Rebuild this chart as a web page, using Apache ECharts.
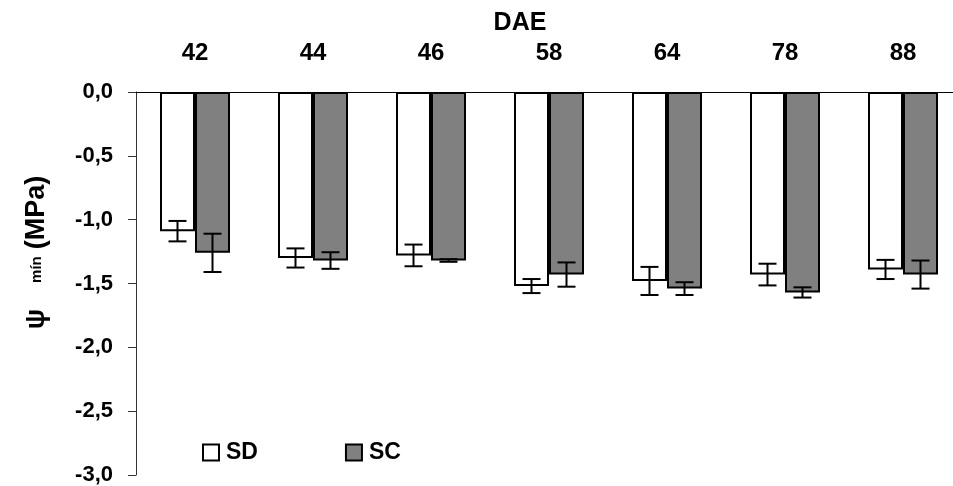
<!DOCTYPE html>
<html>
<head>
<meta charset="utf-8">
<script src="https://cdn.jsdelivr.net/npm/echarts@6/dist/echarts.min.js"></script>
<style>
  html, body { margin: 0; padding: 0; background: #fff; overflow: hidden; }
  #chart { width: 962px; height: 486px; }
</style>
</head>
<body>
<div id="chart"></div>
<script>
const days = ["42", "44", "46", "58", "64", "78", "88"];
const sdValues = [-1.09, -1.30, -1.28, -1.52, -1.48, -1.43, -1.39];
const sdErrors = [0.08, 0.075, 0.085, 0.055, 0.11, 0.085, 0.075];
const scValues = [-1.26, -1.32, -1.32, -1.43, -1.54, -1.57, -1.43];
const scErrors = [0.15, 0.065, 0.01, 0.095, 0.05, 0.04, 0.11];
const yTicks = [0, -0.5, -1.0, -1.5, -2.0, -2.5, -3.0];

const FONT = "'Liberation Sans', Arial, sans-serif";
const BAR_W = 35;

// the plot runs a few pixels past the right edge of the picture, so the
// chart div is wider than the window and the extra part is cut off
function errorBars(offset) {
  return function (params, api) {
    const i = api.value(0);
    const v = api.value(1);
    const e = api.value(2);
    const hi = api.coord([i, v + e]);
    const lo = api.coord([i, v - e]);
    const x = hi[0] + offset;
    const cap = 9;
    const style = { stroke: "#000", lineWidth: 2 };
    return {
      type: "group",
      children: [
        { type: "line", shape: { x1: x, y1: hi[1], x2: x, y2: lo[1] }, style },
        { type: "line", shape: { x1: x - cap, y1: hi[1], x2: x + cap, y2: hi[1] }, style },
        { type: "line", shape: { x1: x - cap, y1: lo[1], x2: x + cap, y2: lo[1] }, style },
      ],
    };
  };
}

const chart = echarts.init(document.getElementById("chart"), null, { renderer: "canvas" });
chart.setOption({
  animation: false,
  textStyle: { fontFamily: FONT },
  grid: { left: 136, right: 0, top: 92, bottom: 11, containLabel: false },
  legend: {
    data: ["SD", "SC"],
    left: 197,
    top: 436,
    icon: "rect",
    itemWidth: 16,
    itemHeight: 16,
    itemGap: 87,
    textStyle: { fontFamily: FONT, fontWeight: "bold", fontSize: 23, color: "#000", padding: [0, 0, 0, 2] },
  },
  xAxis: {
    type: "category",
    position: "top",
    data: days,
    name: "DAE",
    nameLocation: "middle",
    nameGap: 48,
    nameTextStyle: { fontFamily: FONT, fontWeight: "bold", fontSize: 25, color: "#000", padding: [0, 58, 0, 0] },
    axisLine: { onZero: false, lineStyle: { color: "#000", width: 1 } },
    axisTick: { inside: true, length: 7, lineStyle: { color: "#000", width: 1 } },
    axisLabel: { margin: 27, fontFamily: FONT, fontWeight: "bold", fontSize: 24, color: "#000" },
  },
  yAxis: {
    type: "value",
    min: -3,
    max: 0,
    interval: 0.5,
    name: "{psi|ψ}{sub|mín}{main|(MPa)}",
    nameLocation: "middle",
    nameGap: 86,
    nameTextStyle: {
      padding: [0, 0, 0, 62],
      rich: {
        psi: { fontFamily: FONT, fontWeight: "bold", fontSize: 27, color: "#000", padding: [0, 26, 0, 0] },
        sub: { fontFamily: FONT, fontWeight: "bold", fontSize: 15, color: "#000", padding: [0, 7, 0, 0] },
        main: { fontFamily: FONT, fontWeight: "bold", fontSize: 27, color: "#000" },
      },
    },
    axisLine: { show: true, lineStyle: { color: "#333", width: 1 } },
    axisTick: { show: true, length: 8, lineStyle: { color: "#333", width: 1 } },
    splitLine: { show: false },
    axisLabel: {
      margin: 23,
      fontFamily: FONT,
      fontWeight: "bold",
      fontSize: 22,
      color: "#000",
      formatter: (v) => {
        const t = yTicks.find((k) => Math.abs(k - v) < 1e-6);
        return (t === undefined ? v : t).toFixed(1).replace(".", ",");
      },
    },
  },
  series: [
    {
      name: "SD",
      type: "bar",
      data: sdValues,
      barWidth: BAR_W,
      barGap: "0%",
      itemStyle: { color: "#fff", borderColor: "#000", borderWidth: 2 },
    },
    {
      name: "SC",
      type: "bar",
      data: scValues,
      barWidth: BAR_W,
      barGap: "0%",
      itemStyle: { color: "#808080", borderColor: "#000", borderWidth: 2 },
    },
    {
      name: "SD err",
      type: "custom",
      renderItem: errorBars(-BAR_W / 2),
      data: sdValues.map((v, i) => [i, v, sdErrors[i]]),
      encode: { x: 0, y: 1 },
      z: 3,
    },
    {
      name: "SC err",
      type: "custom",
      renderItem: errorBars(BAR_W / 2),
      data: scValues.map((v, i) => [i, v, scErrors[i]]),
      encode: { x: 0, y: 1 },
      z: 3,
    },
  ],
});
</script>
</body>
</html>
